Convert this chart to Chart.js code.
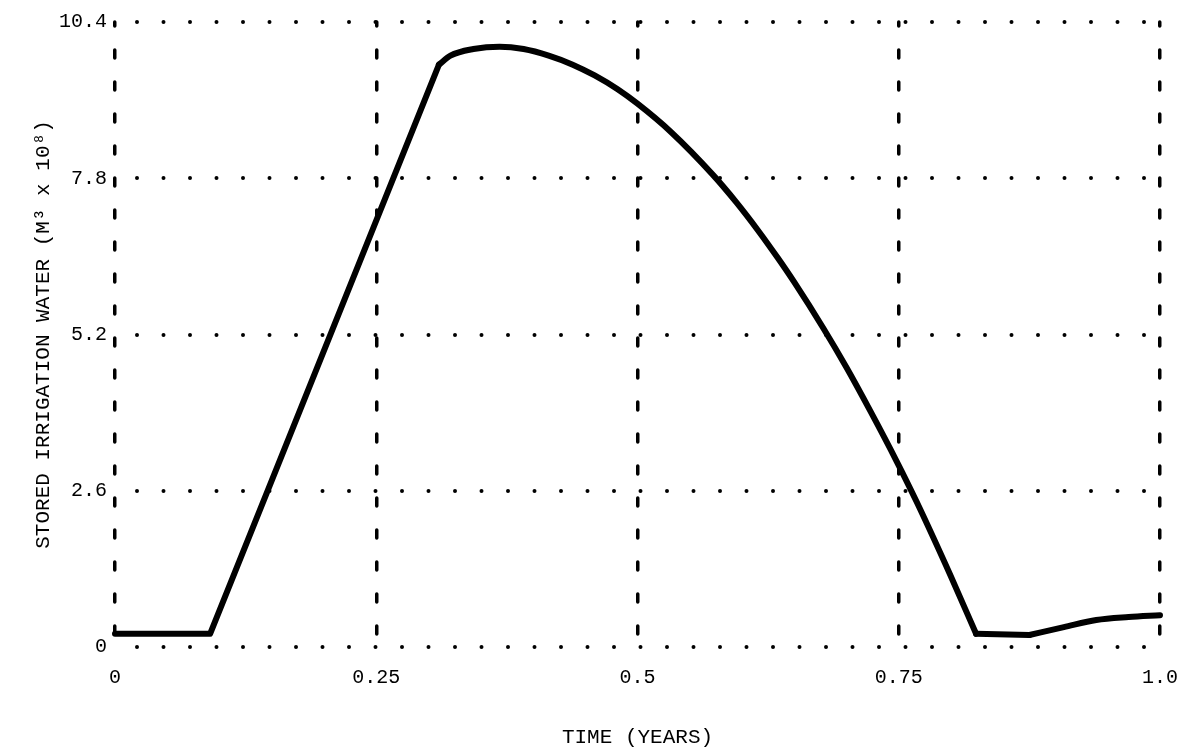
<!DOCTYPE html>
<html>
<head>
<meta charset="utf-8">
<title>Stored irrigation water</title>
<script src="https://cdn.jsdelivr.net/npm/chart.js@4/dist/chart.umd.min.js"></script>
<style>
  html, body { margin: 0; padding: 0; background: #fff; }
  #wrap { width: 1188px; height: 753px; }
</style>
</head>
<body>
<div id="wrap"><canvas id="waterChart"></canvas></div>
<script>
// time in years, stored water in M3 x 10^8
var timeYears = [0, 0.091, 0.310, 0.321, 0.343, 0.368, 0.391, 0.415, 0.438, 0.459, 0.481, 0.500,
	0.532, 0.572, 0.595, 0.615, 0.634, 0.650, 0.678, 0.700, 0.723, 0.748, 0.767, 0.799, 0.824,
	0.875, 0.908, 0.939, 0.970, 1.0];
var storedWater = [0.22, 0.22, 9.69, 9.84, 9.95, 9.99, 9.95, 9.84, 9.69, 9.51, 9.28, 9.04,
	8.57, 7.86, 7.39, 6.94, 6.48, 6.07, 5.30, 4.65, 3.92, 3.09, 2.42, 1.21, 0.22,
	0.20, 0.33, 0.45, 0.50, 0.53];

var xTicks = [0, 0.25, 0.5, 0.75, 1.0];
var xTickLabels = ["0", "0.25", "0.5", "0.75", "1.0"];
var yTicks = [0, 2.6, 5.2, 7.8, 10.4];
var yTickLabels = ["0", "2.6", "5.2", "7.8", "10.4"];

var typeFont = "'Liberation Mono', 'Courier New', monospace";

// round caps so the grid dashes come out as dots
var roundCaps = {
	id : "roundCaps",
	beforeDraw : function(chart) {
		chart.ctx.lineCap = "round";
	}
};

// one piece of the curve: straight runs stay straight, the arcs get smoothed
function piece(from, to, smooth) {
	var pts = [];
	for (var i = from; i <= to; i++) {
		pts.push({ x : timeYears[i], y : storedWater[i] });
	}
	return {
		data : pts,
		borderColor : "#000",
		borderWidth : 6,
		borderJoinStyle : "round",
		borderCapStyle : "round",
		pointRadius : 0,
		tension : smooth ? 0.4 : 0,
		cubicInterpolationMode : smooth ? "monotone" : "default",
		fill : false,
		clip : false
	};
}

var ctx = document.getElementById("waterChart").getContext("2d");
var chart = new Chart(ctx, {
	type : "line",
	data : {
		datasets : [
			piece(0, 2, false),
			piece(2, 24, true),
			piece(24, 25, false),
			piece(25, 29, true)
		]
	},
	options : {
		responsive : true,
		maintainAspectRatio : false,
		animation : false,
		layout : {
			padding : { left : 31, right : 28, top : 22, bottom : 3 }
		},
		plugins : {
			legend : { display : false },
			tooltip : { enabled : false }
		},
		scales : {
			x : {
				type : "linear",
				min : 0,
				max : 1,
				afterBuildTicks : function(scale) {
					scale.ticks = xTicks.map(function(v) { return { value : v }; });
				},
				afterFit : function(scale) {
					scale.height = 103;
					scale.paddingLeft = 0;
					scale.paddingRight = 0;
				},
				grid : {
					color : "#000",
					lineWidth : 3.5,
					drawTicks : false
				},
				border : { display : false, dash : [ 8, 24 ], dashOffset : 4 },
				ticks : {
					color : "#000",
					padding : 19,
					maxRotation : 0,
					font : { family : typeFont, size : 20 },
					callback : function(value, index) { return xTickLabels[index]; }
				},
				title : {
					display : true,
					text : "TIME (YEARS)",
					color : "#000",
					font : { family : typeFont, size : 21 },
					padding : 0
				}
			},
			y : {
				min : 0,
				max : 10.4,
				afterBuildTicks : function(scale) {
					scale.ticks = yTicks.map(function(v) { return { value : v }; });
				},
				afterFit : function(scale) {
					scale.width = 84;
				},
				grid : {
					color : "#000",
					lineWidth : 4,
					drawTicks : false
				},
				border : { display : false, dash : [ 0, 26.5 ], dashOffset : 4.5 },
				ticks : {
					color : "#000",
					padding : 8,
					font : { family : typeFont, size : 20 },
					callback : function(value, index) { return yTickLabels[index]; }
				},
				title : {
					display : true,
					text : "STORED IRRIGATION WATER (M³ x 10⁸)",
					color : "#000",
					font : { family : typeFont, size : 21 },
					padding : 0
				}
			}
		}
	},
	plugins : [ roundCaps ]
});
</script>
</body>
</html>
